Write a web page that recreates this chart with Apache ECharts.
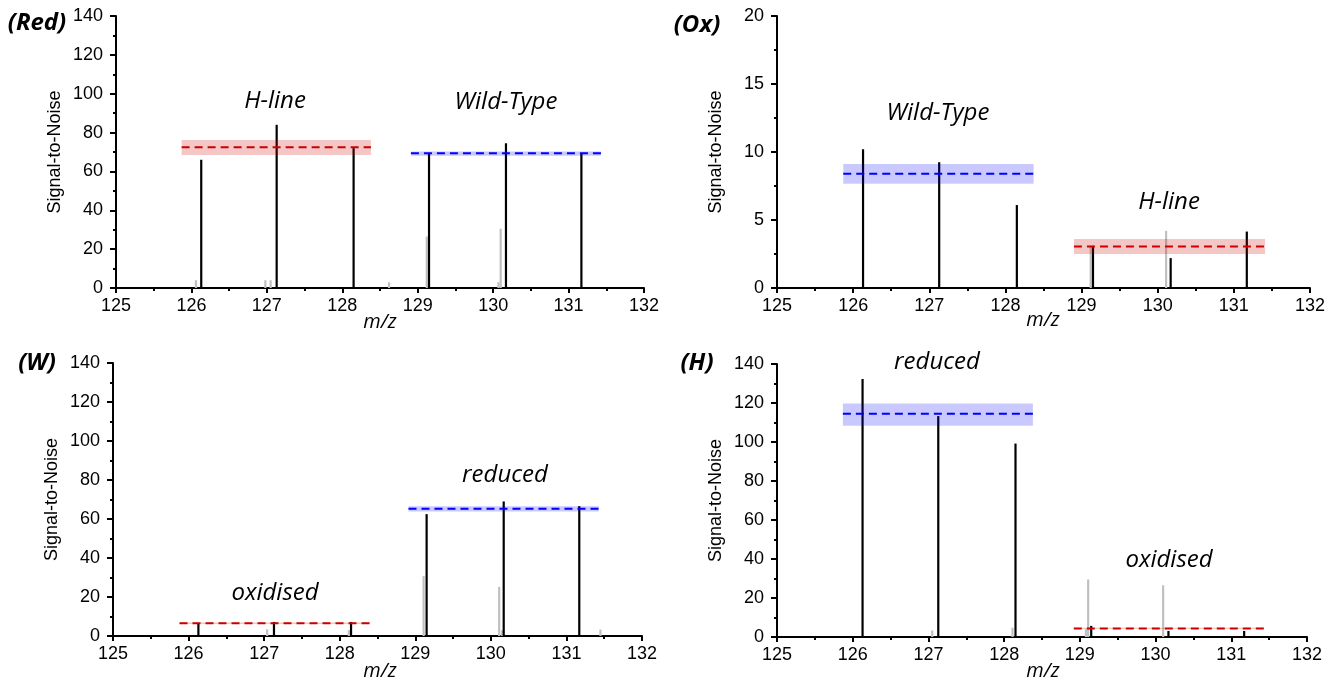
<!DOCTYPE html>
<html>
<head>
<meta charset="utf-8">
<script src="https://cdn.jsdelivr.net/npm/echarts@6/dist/echarts.min.js"></script>
<style>html,body{margin:0;padding:0;background:#fff;}#c{width:1336px;height:683px;}</style>
</head>
<body>
<div id="c"></div>
<script>
// ---- data ----
const xTickMin = 125, xTickMax = 132;
const stickPos = [126.13, 127.13, 128.15, 129.15, 130.17, 131.17];

// (Red)
const redBlack = [66, 84, 72, 69, 74.5, 69];
const redGrayPos = [126.06, 126.98, 127.05, 128.62, 129.12, 130.07, 130.10];
const redGray = [4, 4, 4, 3, 26.5, 3, 30.5];
const redBandH = [125.87, 128.38, 72.5, 68.5, 76.2];   // x0, x1, mean, lo, hi
const redBandW = [128.91, 131.43, 69.3, 68.1, 70.3];

// (Ox)
const oxBlack = [10.2, 9.25, 6.1, 3.1, 2.2, 4.15];
const oxGrayPos = [129.12, 130.11];
const oxGray = [3.1, 4.2];
const oxBandW = [125.87, 128.37, 8.4, 7.67, 9.12];
const oxBandH = [128.90, 131.41, 3.05, 2.5, 3.6];

// (W)
const wBlack = [6.4, 7.2, 7.2, 62.5, 69, 66.6];
const wGrayPos = [127.04, 128.12, 129.11, 130.11, 130.15, 131.45];
const wGray = [3.4, 3, 30.7, 25.2, 3, 3.3];
const wBandOx = [125.88, 128.40, 6.5, 6.1, 6.9];
const wBandRed = [128.91, 131.43, 65.2, 63.8, 66.5];

// (H)
const hBlack = [132.3, 113.3, 99.2, 5.7, 3.1, 3.1];
const hGrayPos = [127.05, 128.11, 129.08, 129.11, 130.10];
const hGray = [3.4, 4.8, 4, 29.5, 26.5];
const hBandRed = [125.87, 128.38, 114.5, 108.3, 119.8];
const hBandOx = [128.92, 131.43, 4.4, 4.1, 4.7];

const panelLabels = ['(Red)', '(Ox)', '(W)', '(H)'];
const annotations = [['H-line', 'Wild-Type'], ['Wild-Type', 'H-line'], ['oxidised', 'reduced'], ['reduced', 'oxidised']];
const yName = 'Signal-to-Noise';
const xName = 'm/z';

// ---- build ----
const RED = '#cc0000', BLUE = '#0000ff';
const RED_FILL = 'rgba(204,0,0,0.22)', BLUE_FILL = 'rgba(0,0,255,0.21)';

const grids = [
  {left: 116, top: 16, width: 528, height: 272},
  {left: 777, top: 16, width: 533, height: 272},
  {left: 113, top: 363, width: 529, height: 273},
  {left: 777, top: 364, width: 530, height: 273}
];
const yRanges = [[0, 140, 20], [0, 20, 5], [0, 140, 20], [0, 140, 20]];

const axisLineStyle = {color: '#000', width: 2};
const xAxes = grids.map((g, i) => ({
  type: 'value', gridIndex: i, min: xTickMin, max: xTickMax, interval: 1,
  axisLine: {show: true, onZero: false, lineStyle: axisLineStyle},
  axisTick: {show: true, length: 5, lineStyle: {color: '#000', width: 2}},
  minorTick: {show: true, splitNumber: 2, length: 3, lineStyle: {color: '#000', width: 2}},
  splitLine: {show: false},
  axisLabel: {color: '#000', fontSize: 18, fontFamily: 'Liberation Sans', margin: 9}
}));
const yAxes = grids.map((g, i) => ({
  type: 'value', gridIndex: i, min: yRanges[i][0], max: yRanges[i][1], interval: yRanges[i][2],
  name: yName, nameLocation: 'middle', nameGap: 52,
  nameTextStyle: {color: '#000', fontSize: 18, fontFamily: 'Liberation Sans'},
  axisLine: {show: true, lineStyle: axisLineStyle},
  axisTick: {show: true, length: 6, lineStyle: {color: '#000', width: 2}},
  minorTick: {show: true, splitNumber: 2, length: 3, lineStyle: {color: '#000', width: 2}},
  splitLine: {show: false},
  axisLabel: {color: '#000', fontSize: 18, fontFamily: 'Liberation Sans', margin: 13}
}));

function stickSeries(i, pos, vals, color) {
  return {
    type: 'custom', xAxisIndex: i, yAxisIndex: i, silent: true,
    data: pos.map((p, k) => [p, vals[k]]),
    renderItem: function (params, api) {
      const a = api.coord([api.value(0), 0]);
      const b = api.coord([api.value(0), api.value(1)]);
      return {type: 'line', shape: {x1: a[0], y1: a[1], x2: b[0], y2: b[1]},
              style: {stroke: color, lineWidth: 2.2}};
    }
  };
}
function bandSeries(i, band, fill, stroke) {
  return {
    type: 'custom', xAxisIndex: i, yAxisIndex: i, silent: true,
    data: [band],
    renderItem: function (params, api) {
      const tl = api.coord([api.value(0), api.value(4)]);
      const br = api.coord([api.value(1), api.value(3)]);
      const m0 = api.coord([api.value(0), api.value(2)]);
      const m1 = api.coord([api.value(1), api.value(2)]);
      return {type: 'group', children: [
        {type: 'rect', shape: {x: tl[0], y: tl[1], width: br[0] - tl[0], height: Math.max(1, br[1] - tl[1])},
         style: {fill: fill}},
        {type: 'line', shape: {x1: m0[0], y1: m0[1], x2: m1[0], y2: m1[1]},
         style: {stroke: stroke, lineWidth: 2, lineDash: [8, 5]}}
      ]};
    }
  };
}

const GRAY = '#c0c0c0', BLACK = '#000';
const series = [
  stickSeries(0, redGrayPos, redGray, GRAY), stickSeries(0, stickPos, redBlack, BLACK),
  bandSeries(0, redBandH, RED_FILL, RED), bandSeries(0, redBandW, BLUE_FILL, BLUE),
  stickSeries(1, oxGrayPos, oxGray, GRAY), stickSeries(1, stickPos, oxBlack, BLACK),
  bandSeries(1, oxBandW, BLUE_FILL, BLUE), bandSeries(1, oxBandH, RED_FILL, RED),
  stickSeries(2, wGrayPos, wGray, GRAY), stickSeries(2, stickPos, wBlack, BLACK),
  bandSeries(2, wBandOx, RED_FILL, RED), bandSeries(2, wBandRed, BLUE_FILL, BLUE),
  stickSeries(3, hGrayPos, hGray, GRAY), stickSeries(3, stickPos, hBlack, BLACK),
  bandSeries(3, hBandRed, BLUE_FILL, BLUE), bandSeries(3, hBandOx, RED_FILL, RED)
];

const labelPos = [[37, 23], [697, 25], [37, 363], [697, 363]];
const annPos = [[[275, 101], [506, 102]], [[938, 113], [1169, 202]], [[275, 593], [505, 475]], [[937, 362], [1169, 560]]];
const mzPos = [[380, 322], [1043, 320], [380, 671], [1043, 671]];

const graphic = [];
panelLabels.forEach((t, i) => {
  graphic.push({type: 'text', x: labelPos[i][0], y: labelPos[i][1], silent: true,
    style: {text: t, align: 'center', verticalAlign: 'middle', fill: '#000',
            font: 'italic bold 24px "Open Sans"'}});
  annotations[i].forEach((a, k) => {
    graphic.push({type: 'text', x: annPos[i][k][0], y: annPos[i][k][1], silent: true,
      style: {text: a, align: 'center', verticalAlign: 'middle', fill: '#000',
              font: 'italic 24px "Open Sans"'}});
  });
  graphic.push({type: 'text', x: mzPos[i][0], y: mzPos[i][1], silent: true,
    style: {text: xName, align: 'center', verticalAlign: 'middle', fill: '#000',
            font: 'italic 20px "Open Sans"'}});
});

const chart = echarts.init(document.getElementById('c'), null, {renderer: 'canvas'});
chart.setOption({
  animation: false,
  backgroundColor: '#fff',
  grid: grids,
  xAxis: xAxes,
  yAxis: yAxes,
  series: series,
  graphic: graphic
});
</script>
</body>
</html>
